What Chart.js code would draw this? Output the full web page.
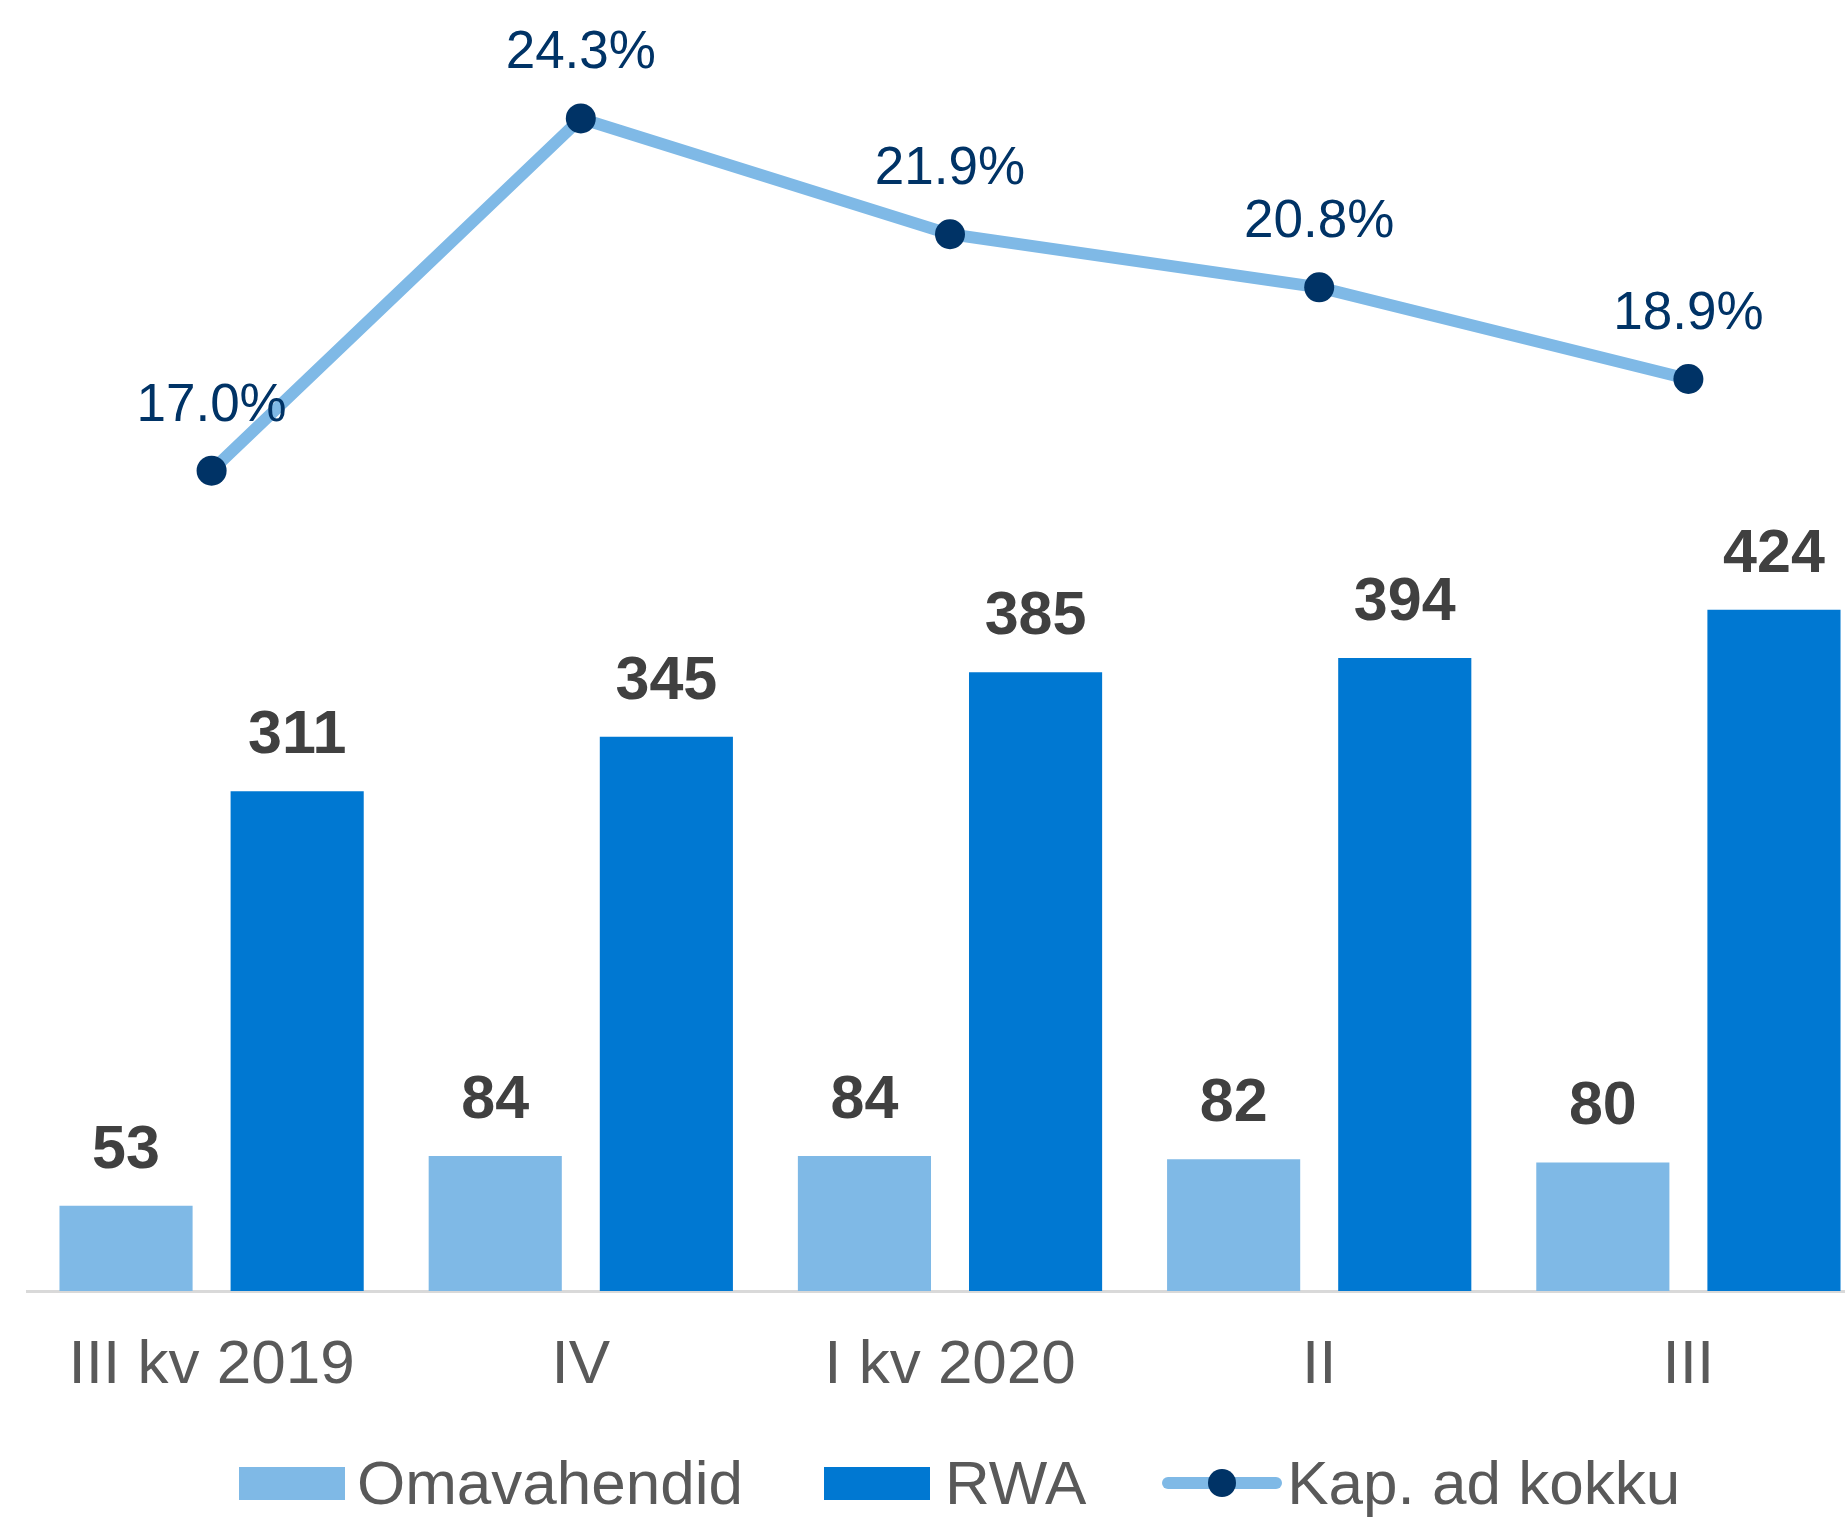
<!DOCTYPE html>
<html>
<head>
<meta charset="utf-8">
<script src="https://cdn.jsdelivr.net/npm/chart.js@4/dist/chart.umd.min.js"></script>
<style>
    body { margin: 0; overflow: hidden; background: #fff; font-family: 'Liberation Sans', Arial, sans-serif; }
    #wrap { position: relative; width: 1888px; height: 1517px; }
    #legend { position: absolute; left: 239px; top: 1448px; display: flex; align-items: center; height: 70px; }
    .lg_box { width: 106px; height: 33px; }
    .lg_text { font-size: 62px; color: #595959; line-height: 70px; }
    .lg_line { position: relative; width: 120px; height: 12px; border-radius: 6px; background: #7fb9e6; }
    .lg_dot { position: absolute; left: 46px; top: -8px; width: 28px; height: 28px; border-radius: 50%; background: #003366; }
</style>
</head>
<body>
<div id="wrap">
    <canvas id="capChart" width="1888" height="1420"></canvas>
    <div id="legend">
        <div class="lg_box" style="background:#7fb9e6"></div>
        <div class="lg_text" style="margin-left:12px">Omavahendid</div>
        <div class="lg_box" style="background:#0078d2; margin-left:81px"></div>
        <div class="lg_text" style="margin-left:15px">RWA</div>
        <div class="lg_line" style="margin-left:76px"><div class="lg_dot"></div></div>
        <div class="lg_text" style="margin-left:5px">Kap. ad kokku</div>
    </div>
</div>
<script>
// ====================================================== 데이터 ========================================================
const quarterLabels = ['III kv 2019', 'IV', 'I kv 2020', 'II', 'III'];

// Omavahendid
const ownFunds = [53, 84, 84, 82, 80];

// RWA
const rwaValues = [311, 345, 385, 394, 424];

// Kap. ad kokku (%)
const capitalRatio = [17.0, 24.3, 21.9, 20.8, 18.9];

// ====================================================== 라벨 플러그인 ========================================================
const valueLabels = {
    id: 'valueLabels',
    afterDatasetsDraw(chart) {
        const ctx = chart.ctx;
        ctx.save();
        ctx.textAlign = 'center';
        ctx.textBaseline = 'alphabetic';
        chart.data.datasets.forEach((ds, i) => {
            const meta = chart.getDatasetMeta(i);
            meta.data.forEach((el, j) => {
                if (ds.type === 'line') {
                    ctx.font = '53px "Liberation Sans", Arial, sans-serif';
                    ctx.fillStyle = '#003366';
                    ctx.fillText(ds.data[j].toFixed(1) + '%', el.x, el.y - 50);
                } else {
                    ctx.font = 'bold 61px "Liberation Sans", Arial, sans-serif';
                    ctx.fillStyle = '#404040';
                    ctx.fillText(ds.data[j], el.x, el.y - 38);
                }
            });
        });
        ctx.restore();
    }
};

// ====================================================== 차트 ========================================================
const capCt = document.getElementById('capChart');

new Chart(capCt, {
    data: {
        labels: quarterLabels,
        datasets: [{
            type: 'line',
            label: 'Kap. ad kokku',
            data: capitalRatio,
            yAxisID: 'y1',
            borderColor: '#7fb9e6',
            borderWidth: 12,
            pointRadius: 15,
            pointHoverRadius: 15,
            pointBorderWidth: 0,
            pointBackgroundColor: '#003366',
            tension: 0,
            order: 0
        }, {
            type: 'bar',
            label: 'Omavahendid',
            data: ownFunds,
            yAxisID: 'y',
            backgroundColor: '#7fb9e6',
            barPercentage: 0.778,
            categoryPercentage: 0.927,
            order: 1
        }, {
            type: 'bar',
            label: 'RWA',
            data: rwaValues,
            yAxisID: 'y',
            backgroundColor: '#0078d2',
            barPercentage: 0.778,
            categoryPercentage: 0.927,
            order: 1
        }]
    },
    options: {
        responsive: false,
        animation: false,
        devicePixelRatio: 1,
        layout: { padding: { top: 20, left: 27, right: 7, bottom: 0 } },
        plugins: {
            legend: { display: false },
            tooltip: { enabled: false }
        },
        scales: {
            x: {
                grid: { display: true, drawOnChartArea: false, drawTicks: false },
                border: { display: true, color: '#d9d9d9', width: 3 },
                ticks: {
                    color: '#595959',
                    padding: 38,
                    maxRotation: 0,
                    autoSkip: false,
                    font: { family: '"Liberation Sans", Arial, sans-serif', size: 62 }
                },
                afterFit(scale) { scale.height = 129; }
            },
            y: { display: false, min: 0, max: 791 },
            y1: { display: false, min: 0, max: 26.34 }
        }
    },
    plugins: [valueLabels]
});
</script>
</body>
</html>
